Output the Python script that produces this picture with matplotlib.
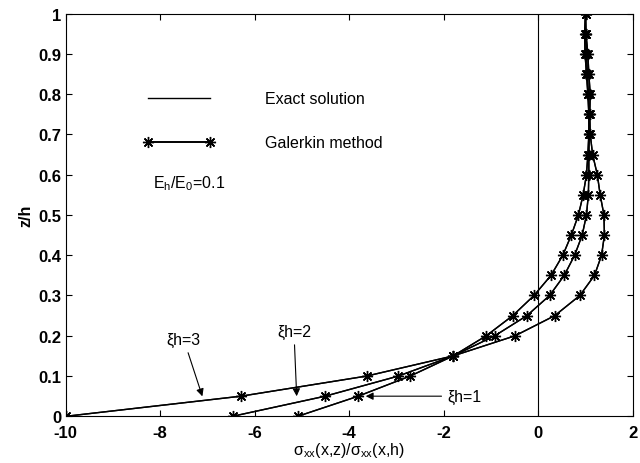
import numpy as np
import matplotlib
matplotlib.use("Agg")
import matplotlib.pyplot as plt

plt.rcParams['font.family'] = ['Liberation Sans', 'DejaVu Sans']
plt.rcParams['mathtext.fontset'] = 'custom'
plt.rcParams['mathtext.rm'] = 'Liberation Sans'
plt.rcParams['mathtext.default'] = 'regular'
plt.rcParams['axes.unicode_minus'] = False

# depth coordinate z/h
z = np.linspace(0, 1, 21)

# normalised stress sigma_xx(x,z)/sigma_xx(x,h) for three values of xi*h
s_xh1 = [-5.09, -3.81, -2.71, -1.80, -1.10, -0.54, -0.09, 0.27, 0.52, 0.70, 0.85,
         0.95, 1.02, 1.05, 1.07, 1.07, 1.05, 1.02, 0.99, 0.98, 1.00]
s_xh2 = [-6.47, -4.51, -2.96, -1.80, -0.92, -0.24, 0.24, 0.55, 0.77, 0.93, 1.02,
         1.06, 1.07, 1.07, 1.08, 1.08, 1.06, 1.04, 1.02, 1.00, 1.00]
s_xh3 = [-10.0, -6.29, -3.63, -1.80, -0.49, 0.35, 0.88, 1.19, 1.34, 1.40, 1.39,
         1.31, 1.25, 1.15, 1.10, 1.09, 1.10, 1.07, 1.05, 1.01, 1.00]

fig = plt.figure(figsize=(6.4, 4.64), dpi=100)
ax = fig.add_axes([0.1027, 0.1006, 0.886, 0.868])

star = (8, 2, 0)  # asterisk marker
for s in (s_xh1, s_xh2, s_xh3):
    ax.plot(s, z, color='k', lw=1.0)
    ax.plot(s, z, color='k', lw=1.0, marker=star, ms=8, mew=1.0)

ax.axvline(0, color='k', lw=0.8)

# legend drawn by hand inside the axes
ax.plot([-8.26, -6.94], [0.79, 0.79], color='k', lw=1.0)
ax.text(-5.79, 0.79, 'Exact solution', fontsize=11.5, va='center')
ax.plot([-8.26, -6.94], [0.68, 0.68], color='k', lw=1.4, marker=star, ms=8, mew=1.0)
ax.text(-5.79, 0.68, 'Galerkin method', fontsize=11.5, va='center')
ax.text(-8.15, 0.58, '$E_h/E_0$=0.1', fontsize=11.5, va='center')

arrow = dict(arrowstyle='-|>', color='k', lw=0.8, mutation_scale=11)
ax.annotate('ξh=3', xy=(-7.09, 0.043), xytext=(-7.5, 0.19), fontsize=11.5,
            ha='center', va='center', arrowprops=arrow)
ax.annotate('ξh=2', xy=(-5.11, 0.043), xytext=(-5.17, 0.21), fontsize=11.5,
            ha='center', va='center', arrowprops=arrow)
ax.annotate('ξh=1', xy=(-3.71, 0.05), xytext=(-1.93, 0.05), fontsize=11.5,
            ha='left', va='center', arrowprops=arrow)

ax.set_xlim(-10, 2)
ax.set_ylim(0, 1)
ax.set_xticks(np.arange(-10, 3, 2))
ax.set_yticks(np.arange(0, 1.01, 0.1))
ax.set_yticklabels(['0', '0.1', '0.2', '0.3', '0.4', '0.5', '0.6', '0.7', '0.8', '0.9', '1'])
ax.tick_params(direction='in', top=True, right=True, labelsize=12, length=4)
ax.tick_params(axis='x', pad=6.5)
ax.tick_params(axis='y', pad=3)
for lab in ax.get_xticklabels() + ax.get_yticklabels():
    lab.set_fontweight('bold')
ax.set_xlabel(r'$\sigma_{xx}$(x,z)/$\sigma_{xx}$(x,h)', fontsize=11.5, labelpad=0)
ax.set_ylabel('z/h', fontsize=11.5, fontweight='bold', labelpad=4)

fig.savefig('out.png', dpi=100)
